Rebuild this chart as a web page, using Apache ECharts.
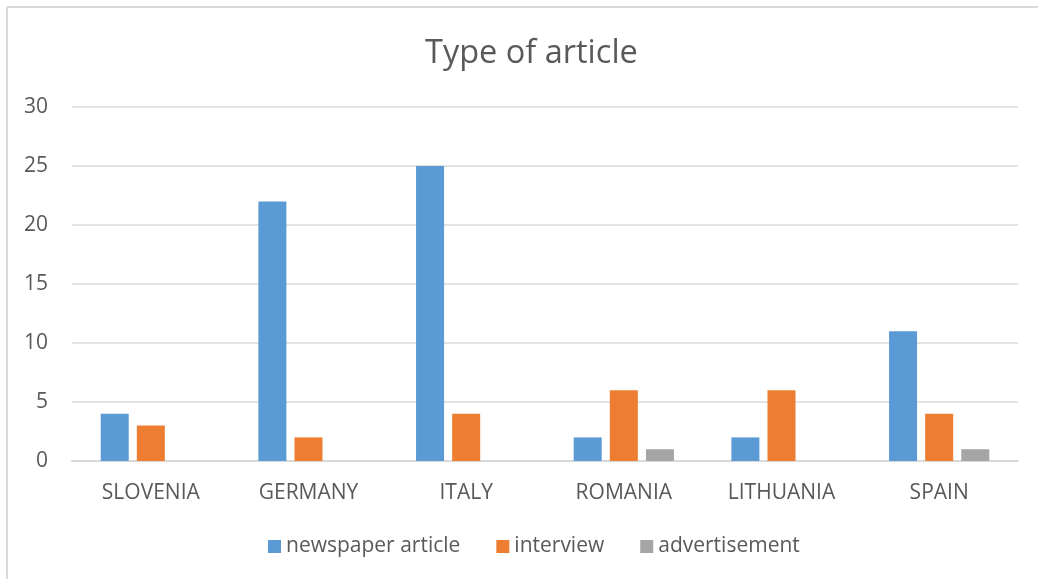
<!DOCTYPE html>
<html>
<head>
<meta charset="utf-8">
<script src="https://cdn.jsdelivr.net/npm/echarts@6/dist/echarts.min.js"></script>
<style>
  html, body { margin: 0; padding: 0; background: #fff; }
  #chart { width: 1038px; height: 579px; }
</style>
</head>
<body>
<div id="chart"></div>
<script>
// data
const countries = ['SLOVENIA', 'GERMANY', 'ITALY', 'ROMANIA', 'LITHUANIA', 'SPAIN']
const newspaperArticle = [4, 22, 25, 2, 2, 11]
const interview = [3, 2, 4, 6, 6, 4]
const advertisement = [0, 0, 0, 1, 0, 1]
const yTicks = { min: 0, max: 30, interval: 5 }

const FONT = '"Open Sans", "Noto Sans", sans-serif'
const TEXT = '#595959'

const chart = echarts.init(document.getElementById('chart'))

const bar = (name, data, color) => ({
  name: name,
  type: 'bar',
  data: data,
  barWidth: 28,
  barGap: '29%',
  itemStyle: { color: color },
  emphasis: { disabled: true }
})

const option = {
  animation: false,
  title: {
    text: 'Type of article',
    left: 420,
    top: 32,
    textStyle: { fontFamily: FONT, fontSize: 32.5, fontWeight: 'normal', color: TEXT }
  },
  legend: {
    bottom: 17,
    left: 263,
    itemWidth: 13,
    itemHeight: 13,
    itemGap: 36,
    icon: 'rect',
    textStyle: { fontFamily: FONT, fontSize: 21, color: TEXT }
  },
  grid: { left: 72, right: 20, top: 107, bottom: 118, containLabel: false },
  xAxis: {
    type: 'category',
    data: countries,
    axisLine: { lineStyle: { color: '#D9D9D9', width: 2 } },
    axisTick: { show: false },
    axisLabel: { fontFamily: FONT, fontSize: 21, color: TEXT, margin: 22 }
  },
  yAxis: {
    type: 'value',
    min: yTicks.min,
    max: yTicks.max,
    interval: yTicks.interval,
    axisLine: { show: false },
    axisTick: { show: false },
    splitLine: { lineStyle: { color: '#D9D9D9', width: 1.5 } },
    axisLabel: { fontFamily: FONT, fontSize: 21, color: TEXT, margin: 24 }
  },
  graphic: [
    { type: 'line', shape: { x1: 7, y1: 7, x2: 1038, y2: 7 }, style: { stroke: '#D9D9D9', lineWidth: 2 } },
    { type: 'line', shape: { x1: 7, y1: 7, x2: 7, y2: 579 }, style: { stroke: '#D9D9D9', lineWidth: 2 } }
  ],
  series: [
    bar('newspaper article', newspaperArticle, '#5B9BD5'),
    bar('interview', interview, '#ED7D31'),
    bar('advertisement', advertisement, '#A5A5A5')
  ]
}

chart.setOption(option)
</script>
</body>
</html>
